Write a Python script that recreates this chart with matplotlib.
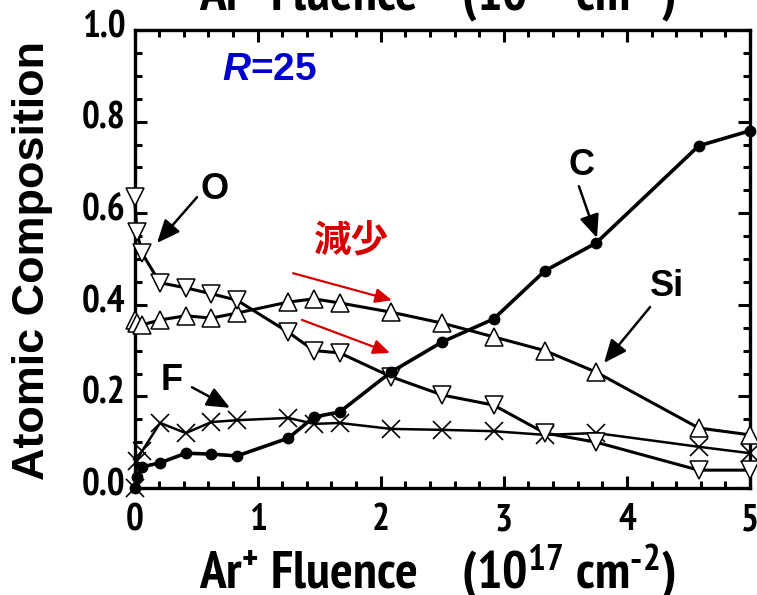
import numpy as np
import matplotlib
matplotlib.use("Agg")
import matplotlib.pyplot as plt
from matplotlib import font_manager
from matplotlib.font_manager import FontProperties
from matplotlib.ticker import MultipleLocator
from matplotlib.transforms import ScaledTranslation


def pick_narrow():
    # look for a narrow / condensed bold face; fall back to plain Liberation Sans
    fonts = font_manager.fontManager.ttflist
    wanted = [lambda f: "Narrow" in f.name and "Liberation" in f.name,
              lambda f: "Narrow" in f.name,
              lambda f: f.name.startswith("DejaVu Sans") and "ondensed" in (f.stretch + f.name + f.fname),
              lambda f: "ondensed" in (str(f.stretch) + f.name + f.fname)]
    for test in wanted:
        hits = [f for f in fonts if test(f) and "Mono" not in f.name]
        bold = [f for f in hits if f.weight in ("bold", 700) and f.style == "normal"]
        if bold:
            return FontProperties(fname=bold[0].fname), 1.0
        if hits:
            return FontProperties(fname=hits[0].fname, weight="bold"), 1.0
    return FontProperties(family="Liberation Sans", weight="bold"), 0.8


narrow, shrink = pick_narrow()

plt.rcParams["font.family"] = ["Liberation Sans", "DejaVu Sans"]
plt.rcParams["font.weight"] = "bold"
plt.rcParams["mathtext.fontset"] = "custom"
plt.rcParams["mathtext.default"] = "regular"
plt.rcParams["mathtext.it"] = "Liberation Sans:italic:bold"
plt.rcParams["mathtext.rm"] = "Liberation Sans:bold"

# Ar+ fluence (1e17 cm^-2)
fluence = [0.0, 0.02, 0.06, 0.208, 0.417, 0.625, 0.833, 1.25, 1.458, 1.667,
           2.083, 2.5, 2.917, 3.333, 3.75, 4.583, 5.0]

# atomic composition of each element
comp_O = [0.635, 0.56, 0.513, 0.448, 0.437, 0.424, 0.41, 0.34, 0.30, 0.295,
          0.243, 0.203, 0.181, 0.12, 0.10, 0.039, 0.039]
comp_Si = [0.367, 0.36, 0.356, 0.367, 0.376, 0.371, 0.382, 0.406, 0.413, 0.404,
           0.384, 0.36, 0.33, 0.30, 0.253, 0.131, 0.116]
comp_C = [0.0, 0.024, 0.046, 0.055, 0.076, 0.074, 0.07, 0.109, 0.155, 0.166,
          0.253, 0.319, 0.369, 0.474, 0.535, 0.747, 0.78]
comp_F = [0.0, 0.06, 0.08, 0.142, 0.12, 0.144, 0.148, 0.153, 0.14, 0.142,
          0.129, 0.127, 0.124, 0.116, 0.12, 0.09, 0.076]

xticks = [0, 1, 2, 3, 4, 5]
yticks = [0.0, 0.2, 0.4, 0.6, 0.8, 1.0]
xlabel = "Ar$^{+}$ Fluence    (10$^{17}$ cm$^{\u2010 2}$)"

W, H = 757, 595
fig = plt.figure(figsize=(W / 100, H / 100), dpi=100)
ax = fig.add_axes([134.5 / W, 1 - 488 / H, (750 - 134.5) / W, (488 - 30) / H])

ax.plot(fluence, comp_F, color="black", lw=1.8, marker="x", ms=13, mew=1.2,
        clip_on=False, zorder=3)
ax.plot(fluence, comp_Si, color="black", lw=2.2, marker="^", ms=12.5,
        mfc="white", mec="black", mew=1.1, clip_on=False, zorder=4)
ax.plot(fluence, comp_O, color="black", lw=2.2, marker="v", ms=12.5,
        mfc="white", mec="black", mew=1.1, clip_on=False, zorder=5)
ax.plot(fluence, comp_C, color="black", lw=2.6, marker="o", ms=7.5,
        clip_on=False, zorder=6)

ax.set_xlim(0, 5)
ax.set_ylim(0, 1)
ax.set_xticks(xticks)
ax.set_yticks(yticks)
ax.set_xticklabels([str(t) for t in xticks])
ax.set_yticklabels([f"{t:.1f}" for t in yticks])
ax.xaxis.set_minor_locator(MultipleLocator(0.2))
ax.yaxis.set_minor_locator(MultipleLocator(0.05))

for s in ax.spines.values():
    s.set_linewidth(2.4)
ax.tick_params(which="both", direction="in", top=True, right=True, width=2.2)
ax.tick_params(which="major", length=8.8)
ax.tick_params(which="minor", length=5)
ax.tick_params(axis="x", which="major", pad=11)
ax.tick_params(axis="y", which="major", pad=6.5)
tick_size = 27 * shrink
for lab in ax.get_xticklabels() + ax.get_yticklabels():
    lab.set_fontproperties(narrow)
    lab.set_fontsize(tick_size)
raise_up = ScaledTranslation(0, 4.5 / 72, fig.dpi_scale_trans)
for lab in ax.get_yticklabels():
    lab.set_transform(lab.get_transform() + raise_up)

fig.text(12 / W, 1 - 261 / H, "Atomic Composition", rotation=90, ha="left",
         va="center", fontsize=32.4, fontweight="bold")
label_size = 38.3 * shrink
fig.text(437 / W, 7 / H, xlabel, ha="center", va="baseline",
         fontproperties=narrow, fontsize=label_size)
# same label on the top axis, running off the sheet
fig.text(437 / W, 1 - 10 / H, xlabel, ha="center", va="baseline",
         fontproperties=narrow, fontsize=label_size)

ax.text(0.711, 0.913, "$\\mathit{R}$=25", color="#0000cc", fontsize=28,
        fontweight="bold", ha="left", va="center")

black_head = dict(arrowstyle="-|>,head_length=0.7,head_width=0.3",
                  mutation_scale=20, lw=1.8, color="black",
                  shrinkA=0, shrinkB=0)
labels = [("O", (0.654, 0.651), (0.508, 0.635), (0.183, 0.535)),
          ("C", (3.635, 0.705), (3.61, 0.659), (3.757, 0.546)),
          ("Si", (4.325, 0.441), (4.188, 0.395), (3.814, 0.273)),
          ("F", (0.305, 0.234), (0.467, 0.22), (0.776, 0.175))]
for name, pos, tail, tip in labels:
    ax.text(pos[0], pos[1], name, fontsize=26, fontweight="bold",
            ha="center", va="center", zorder=7)
    ax.annotate("", xy=tip, xytext=tail, arrowprops=black_head, zorder=7)

red = "#d40000"
ax.text(1.76, 0.539, "減少", color=red, fontsize=27, fontweight="bold",
        family=["Noto Sans CJK JP", "DejaVu Sans"], ha="center", va="center")
red_head = dict(arrowstyle="-|>,head_length=0.5,head_width=0.22",
                mutation_scale=20, lw=1.6, color=red, shrinkA=0, shrinkB=0)
ax.annotate("", xy=(2.092, 0.41), xytext=(1.288, 0.469), arrowprops=red_head)
ax.annotate("", xy=(2.075, 0.295), xytext=(1.36, 0.367), arrowprops=red_head)

fig.savefig("out.png", dpi=100)
